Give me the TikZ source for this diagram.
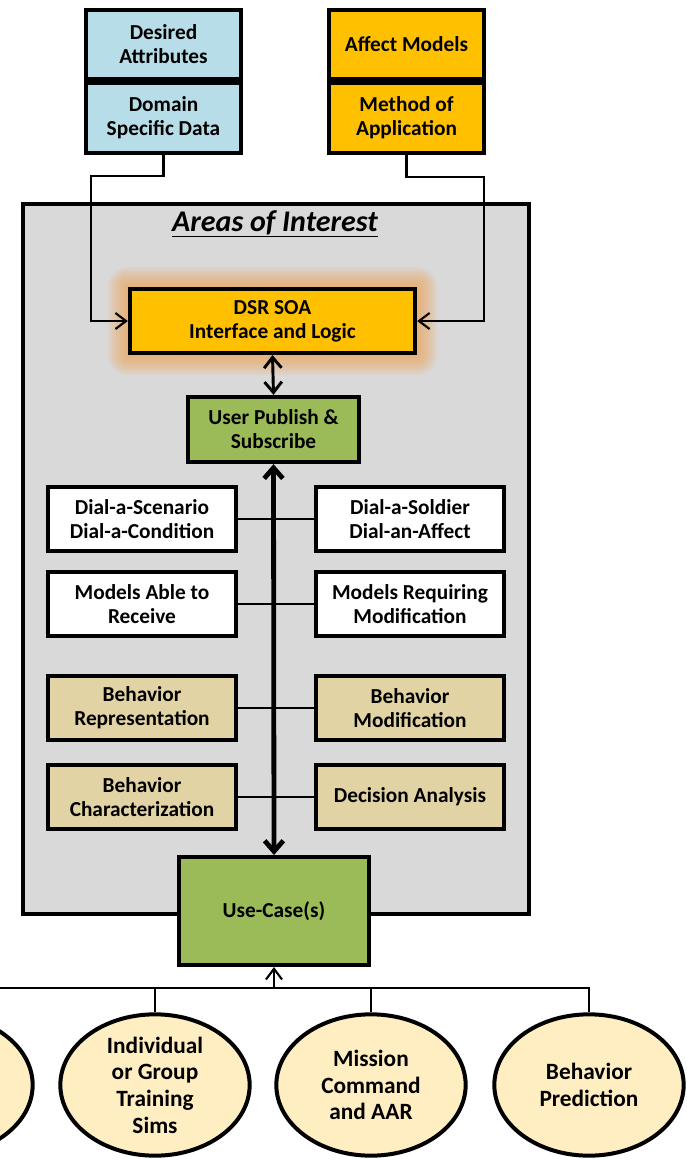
\documentclass[tikz,border=0pt]{standalone}
\usepackage{fontspec}
\setmainfont{Carlito}
\usepackage{tikz}
\usetikzlibrary{arrows.meta, shapes.geometric}

\definecolor{paleblue}{HTML}{B7DEE8}
\definecolor{gold}{HTML}{FFC000}
\definecolor{leaf}{HTML}{9BBB59}
\definecolor{tan}{HTML}{E2D3A4}
\definecolor{cream}{HTML}{FFEEC2}
\definecolor{panel}{HTML}{D9D9D9}
\definecolor{halo}{HTML}{EFA456}

\tikzset{
  blk/.style={draw, rectangle, line width=3pt, align=center, inner sep=2pt,
    font=\fontsize{16}{18}\selectfont\bfseries},
  toprow/.style={blk, minimum width=116pt, minimum height=52pt},
  pair/.style={blk, minimum width=141pt, minimum height=48pt},
  usecase/.style={ellipse, draw, line width=3pt, fill=cream, align=center,
    minimum width=142pt, minimum height=106pt, inner sep=0pt,
    font=\fontsize{17.5}{20}\selectfont\bfseries},
  feed/.style={line width=1.6pt, -{Straight Barb[length=8pt,width=12pt,line width=1.6pt]}},
  link/.style={line width=1.8pt},
}

\begin{document}
\begin{tikzpicture}[x=0.75pt, y=-0.75pt]
\useasboundingbox (0,0) rectangle (686,1160);
\clip (0,0) rectangle (686,1160);

% grey panel
\node[draw, line width=3pt, fill=panel, minimum width=380pt, minimum height=533pt]
  (aoi) at (276,559) {};
\node[font=\fontsize{22.5}{24}\selectfont\bfseries\itshape] (title) at (275,224)
  {\underline{Areas of Interest}};

% inputs
\node[toprow, fill=paleblue] (da) at (163.5,44.5) {Desired\\Attributes};
\node[toprow, fill=paleblue] (dsd) at (163.5,118) {Domain\\Specific Data};
\node[toprow, fill=gold] (am) at (406.5,44.5) {Affect Models};
\node[toprow, fill=gold] (moa) at (406.5,118) {Method of\\Application};

% soft halo round the interface box
\foreach \g in {2,4,...,20}
  \fill[halo, fill opacity=0.1, rounded corners=\g*0.75pt]
    (128-\g,287-\g) rectangle (417+\g,355+\g);

\node[blk, fill=gold, minimum width=214pt, minimum height=48pt] (dsr) at (272.5,321)
  {DSR SOA\\Interface and Logic};
\node[blk, fill=leaf, minimum width=128pt, minimum height=49pt] (ups) at (273.5,429.5)
  {User Publish \&\\Subscribe};

% paired areas
\node[pair, fill=white] (l1) at (142,519) {Dial-a-Scenario\\Dial-a-Condition};
\node[pair, fill=white] (r1) at (410,519) {Dial-a-Soldier\\Dial-an-Affect};
\node[pair, fill=white] (l2) at (142,604) {Models Able to\\Receive};
\node[pair, fill=white] (r2) at (410,604) {Models Requiring\\Modification};
\node[pair, fill=tan] (l3) at (142,708) {Behavior\\Representation};
\node[pair, fill=tan] (r3) at (410,708) {Behavior\\Modification};
\node[pair, fill=tan] (l4) at (142,797) {Behavior\\Characterization};
\node[pair, fill=tan] (r4) at (410,797) {Decision Analysis};

\node[blk, fill=leaf, minimum width=142pt, minimum height=81pt] (uc) at (274,911)
  {Use-Case(s)};

% use cases
\node[usecase] (e0) at (-62,1085) {};
\node[usecase] (e1) at (155,1085) {Individual\\or Group\\Training\\Sims};
\node[usecase] (e2) at (371,1085) {Mission\\Command\\and AAR};
\node[usecase] (e3) at (589,1085) {Behavior\\Prediction};

\coordinate (lk) at (91,176);
\coordinate (rk) at (484,177);
\coordinate (bus) at (274,988);

\draw[feed] (dsd.south) |- (lk) |- (dsr.west);
\draw[feed] (moa.south) |- (rk) |- (dsr.east);

\draw[link] (l1.east) -- (r1.west);
\draw[link] (l2.east) -- (r2.west);
\draw[link] (l3.east) -- (r3.west);
\draw[link] (l4.east) -- (r4.west);

\draw[line width=2.2pt, {Straight Barb[length=8pt,width=13pt]}-{Straight Barb[length=8pt,width=13pt]}]
  (dsr.south) -- (ups.north);
\draw[line width=3.6pt, {Straight Barb[length=8pt,width=14pt]}-{Straight Barb[length=8pt,width=14pt]}]
  (ups.south) -- (uc.north);

\draw[link] (e0.north) |- (bus) -| (e3.north);
\draw[link] (e1.north) -- (e1.north |- bus);
\draw[link] (e2.north) -- (e2.north |- bus);
\draw[feed, line width=2pt] (bus) -- (uc.south);
\end{tikzpicture}
\end{document}
